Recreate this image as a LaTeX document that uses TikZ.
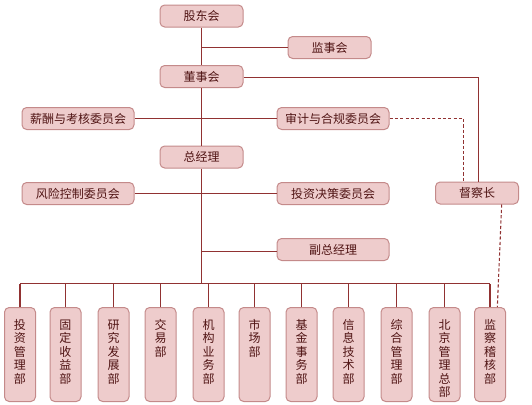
\documentclass[tikz,border=0pt]{standalone}
\usepackage{fontspec}
\setmainfont{Noto Sans CJK SC}
\usetikzlibrary{positioning}
\definecolor{boxfill}{RGB}{238,204,204}
\definecolor{boxline}{RGB}{196,138,138}
\definecolor{wirecol}{RGB}{145,50,50}
\definecolor{ink}{RGB}{80,20,20}
\newcommand{\vstack}[1]{\parbox[t]{12pt}{\centering\baselineskip=10.1pt #1}}
\tikzset{
  box/.style={draw=boxline,fill=boxfill,line width=0.75pt,rounded corners=3.5pt,
    text=ink,font=\fontsize{9}{10}\selectfont,minimum height=16.5pt,inner sep=0pt},
  wide/.style={box,minimum width=84pt},
  narrow/.style={box,minimum width=62.25pt},
  dept/.style={box,anchor=north,minimum width=23.25pt,
    inner xsep=0pt,inner ysep=2.5pt,text height=14pt,text depth=51.5pt},
  wire/.style={draw=wirecol,line width=0.8pt},
  dashwire/.style={wire,dash pattern=on 2.4pt off 1.6pt}
}
\begin{document}
\begin{tikzpicture}[x=0.75pt,y=-0.75pt]
  \useasboundingbox (0,0) rectangle (532,404);
  % top of the chart
  \node[narrow] (gd) at (201.5,16) {股东会};
  \node[narrow] (jsh) at (329.5,47.5) {监事会};
  \node[narrow] (dsh) at (201.5,76.5) {董事会};
  \node[wide] (xc) at (78,118.5) {薪酬与考核委员会};
  \node[wide] (sj) at (333,118.5) {审计与合规委员会};
  \node[narrow] (zjl) at (201.5,157) {总经理};
  \node[wide] (fx) at (78,193.5) {风险控制委员会};
  \node[wide] (tz) at (333,193.5) {投资决策委员会};
  \node[narrow] (dcz) at (477,193) {督察长};
  \node[wide] (fzjl) at (333,249.5) {副总经理};
  \coordinate (bus) at (201.5,283.5);
  % departments
  \foreach \i/\x/\t in {1/20/投\\资\\管\\理\\部,2/65.5/固\\定\\收\\益\\部,
      3/113.5/研\\究\\发\\展\\部,4/160.5/交\\易\\部,5/208.5/机\\构\\业\\务\\部,
      6/254.5/市\\场\\部,7/301.5/基\\金\\事\\务\\部,8/348.5/信\\息\\技\\术\\部,
      9/396.5/综\\合\\管\\理\\部,10/444.5/北\\京\\管\\理\\总\\部,11/490/监\\察\\稽\\核\\部}
    \node[dept] (d\i) at (\x,307) {\vstack{\t}};
  % lines
  \draw[wire] (xc.east) -- (sj.west);
  \draw[wire] (fx.east) -- (tz.west);
  \draw[wire] (gd) -- (dsh);
  \draw[wire] (dsh) -- (zjl);
  \draw[wire] (zjl.south) -- (bus);
  \draw[wire] (jsh.west) -- (jsh.west -| gd);
  \draw[wire] ([yshift=-1.5]fzjl.west) -- ([yshift=-1.5]fzjl.west -| zjl);
  \draw[wire] ([yshift=-1]dsh.east) -| ([xshift=1]dcz.north);
  \draw[dashwire] (sj.east) -| ([xshift=-10]dcz.north);
  \draw[dashwire] ([xshift=18.5]dcz.south) -- ([xshift=5.5]d11.north);
  \draw[wire] (d1.north |- bus) -- (d11.north |- bus);
  \foreach \i in {1,...,11}
    \draw[wire] (d\i.north) -- (d\i.north |- bus);
\end{tikzpicture}
\end{document}
